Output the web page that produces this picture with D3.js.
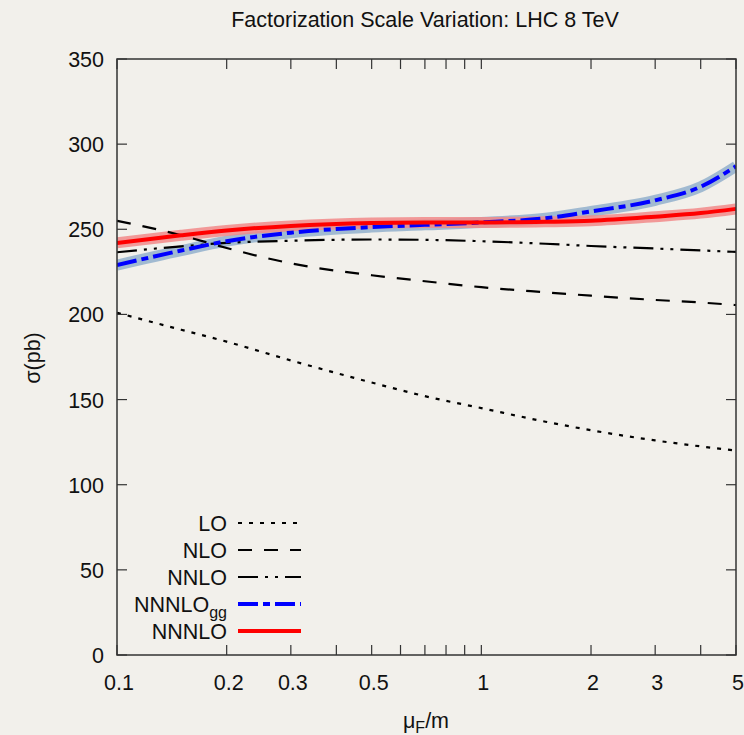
<!DOCTYPE html>
<html>
<head>
<meta charset="utf-8">
<script src="https://cdn.jsdelivr.net/npm/d3@7"></script>
<style>
  html, body { margin: 0; padding: 0; background: #f2f0eb; }
  svg { display: block; }
  text { font-family: "Liberation Sans", Arial, Helvetica, sans-serif; fill: #111; }
</style>
</head>
<body>
<div id="chart"></div>
<script>
const title = "Factorization Scale Variation: LHC 8 TeV";
const muF = [0.1, 0.15, 0.2, 0.3, 0.5, 0.7, 1, 1.5, 2, 3, 4, 5];
const LO      = [201, 191, 184, 173, 160, 152, 145, 137, 132, 126, 122.5, 120];
const NLO     = [255, 246.5, 239, 230, 223, 219.5, 216, 213, 211, 208.5, 207, 205.5];
const NNLO    = [236.5, 240, 242, 243.3, 244, 243.8, 243, 241.5, 240.2, 238.7, 237.6, 236.7];
const NNNLOgg = [229, 237.5, 243, 248, 251.3, 252.6, 254, 256.5, 260.5, 267, 275, 287];
const NNNLO   = [242, 246.5, 249.3, 252, 253.7, 254, 254, 254.4, 255, 257.4, 259.5, 262];
const xTicks = [0.1, 0.2, 0.3, 0.4, 0.5, 0.6, 0.7, 0.8, 0.9, 1, 2, 3, 4, 5];
const xTickLabels = [0.1, 0.2, 0.3, 0.5, 1, 2, 3, 5];
const yTicks = [0, 50, 100, 150, 200, 250, 300, 350];
const legendNames = ["LO", "NLO", "NNLO", "NNNLOgg", "NNNLO"];

const W = 744, H = 735;
const L = 117, R = 736, T = 59, B = 655;
const FS = 21.5;

const svg = d3.select("#chart").append("svg").attr("width", W).attr("height", H);
svg.append("rect").attr("width", W).attr("height", H).attr("fill", "#f2f0eb");

const x = d3.scaleLog().domain([0.1, 5]).range([L, R]);
const y = d3.scaleLinear().domain([0, 350]).range([B, T]);

// Title
svg.append("text").attr("x", 425).attr("y", 27).attr("text-anchor", "middle")
  .attr("font-size", FS).text(title);

svg.append("clipPath").attr("id", "clip").append("rect")
  .attr("x", L).attr("y", T).attr("width", R - L).attr("height", B - T);

const g = svg.append("g").attr("clip-path", "url(#clip)");
const line = d3.line().x(d => x(d[0])).y(d => y(d[1])).curve(d3.curveMonotoneX);
const pts = arr => muF.map((m, i) => [m, arr[i]]);

const series = [
  { name: "LO", data: LO, color: "#000", width: 2.2, dash: "4,7" },
  { name: "NLO", data: NLO, color: "#000", width: 2.2, dash: "14,12" },
  { name: "NNLO", data: NNLO, color: "#000", width: 2.2, dash: "20,7,3,7,3,7" },
  { name: "NNNLOgg", data: NNNLOgg, color: "#0000ff", width: 4, dash: "20,5,7,5", band: "#93b0cc" },
  { name: "NNNLO", data: NNNLO, color: "#ff0000", width: 4, dash: null, band: "#f28a8a" }
];

// bands first
series.filter(s => s.band).forEach(s => {
  g.append("path").attr("d", line(pts(s.data))).attr("fill", "none")
    .attr("stroke", s.band).attr("stroke-width", 11).attr("stroke-opacity", 0.85)
    .attr("stroke-linecap", "butt");
});
series.forEach(s => {
  g.append("path").attr("d", line(pts(s.data))).attr("fill", "none")
    .attr("stroke", s.color).attr("stroke-width", s.width)
    .attr("stroke-dasharray", s.dash).attr("stroke-linecap", "butt");
});

// Frame
svg.append("rect").attr("x", L).attr("y", T).attr("width", R - L).attr("height", B - T)
  .attr("fill", "none").attr("stroke", "#333").attr("stroke-width", 1.5);

// Axes ticks (inward, mirrored)
const tl = 10;
const axisG = svg.append("g").attr("stroke", "#333").attr("stroke-width", 1.2);
xTicks.forEach(t => {
  const px = x(t);
  axisG.append("line").attr("x1", px).attr("x2", px).attr("y1", B).attr("y2", B - tl);
  axisG.append("line").attr("x1", px).attr("x2", px).attr("y1", T).attr("y2", T + tl);
});
yTicks.forEach(t => {
  const py = y(t);
  axisG.append("line").attr("x1", L).attr("x2", L + tl).attr("y1", py).attr("y2", py);
  axisG.append("line").attr("x1", R).attr("x2", R - tl).attr("y1", py).attr("y2", py);
});
xTickLabels.forEach(t => {
  svg.append("text").attr("x", x(t) + 2).attr("y", 690).attr("text-anchor", "middle")
    .attr("font-size", FS).text(String(t));
});
yTicks.forEach(t => {
  svg.append("text").attr("x", 104).attr("y", y(t) + 8).attr("text-anchor", "end")
    .attr("font-size", FS).text(String(t));
});

// Axis labels
svg.append("text").attr("transform", "translate(40,358) rotate(-90)")
  .attr("text-anchor", "middle").attr("font-size", FS).text("σ(pb)");
const xl = svg.append("text").attr("x", 426).attr("y", 728).attr("text-anchor", "middle").attr("font-size", FS);
xl.append("tspan").text("μ");
xl.append("tspan").attr("font-size", 16).attr("dy", 5).text("F");
xl.append("tspan").attr("dy", -5).text("/m");

// Legend
const legY = [523, 550, 577, 604, 631];
series.forEach((s, i) => {
  const ly = legY[i];
  const t = svg.append("text").attr("x", 227).attr("y", ly + 8).attr("text-anchor", "end").attr("font-size", FS);
  if (s.name === "NNNLOgg") {
    t.append("tspan").text("NNNLO");
    t.append("tspan").attr("font-size", 16).attr("dy", 6).text("gg");
  } else {
    t.text(s.name);
  }
  svg.append("line").attr("x1", 238).attr("x2", 301).attr("y1", ly).attr("y2", ly)
    .attr("stroke", s.color).attr("stroke-width", s.width).attr("stroke-dasharray", s.dash);
});
</script>
</body>
</html>
